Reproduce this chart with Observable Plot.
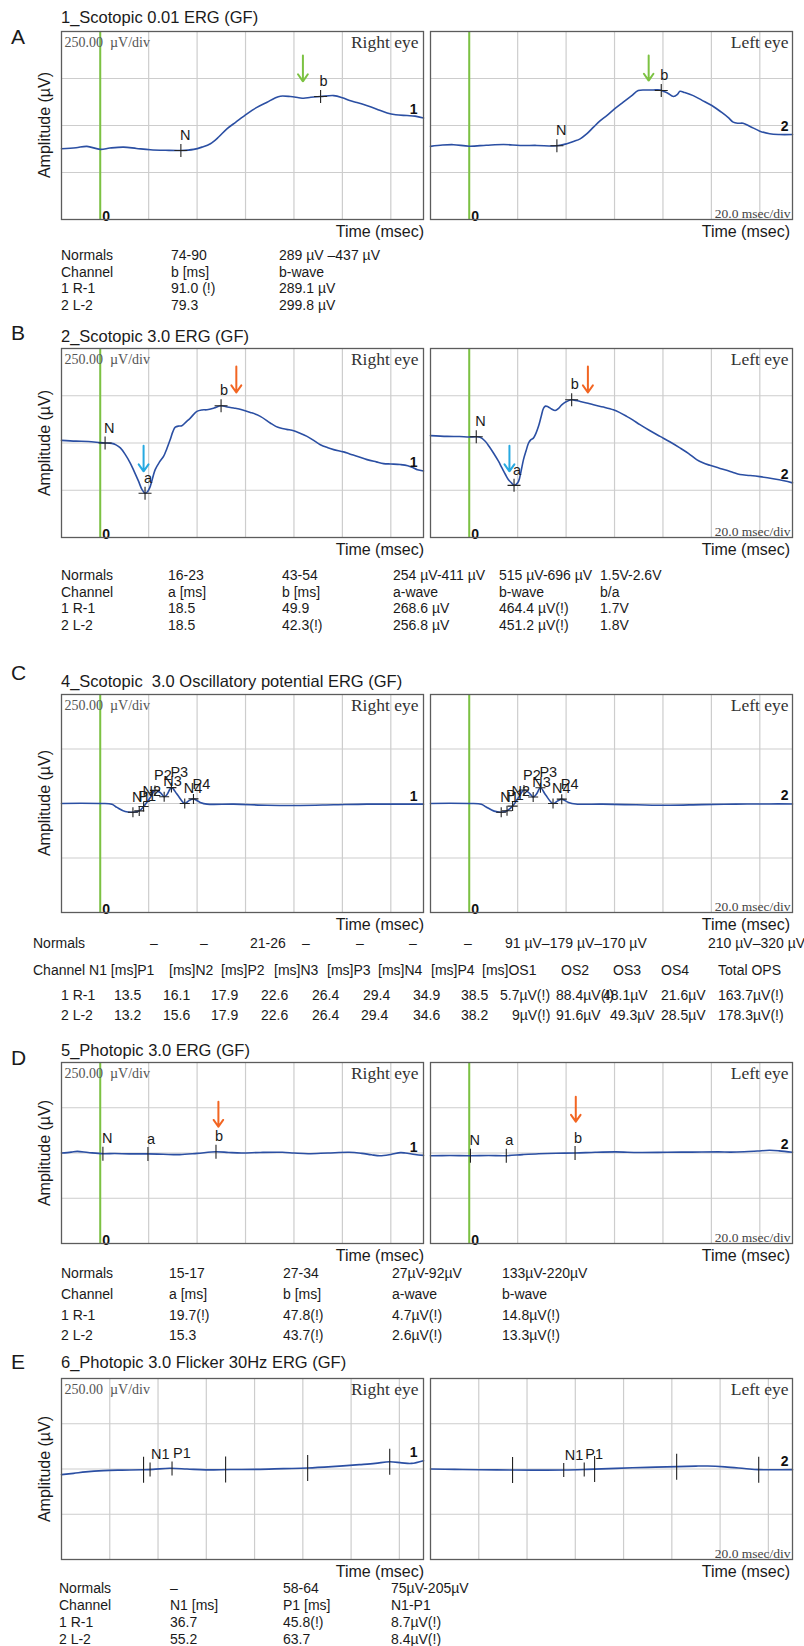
<!DOCTYPE html>
<html><head><meta charset="utf-8">
<script src="https://cdn.jsdelivr.net/npm/d3@7"></script>
<script src="https://cdn.jsdelivr.net/npm/@observablehq/plot@0.6"></script>
<style>
html,body{margin:0;padding:0;background:#fff;}
#root{position:relative;width:804px;height:1646px;overflow:hidden;font-family:"Liberation Sans",Arial,Helvetica,sans-serif;color:#1a1a1a;background:#fff}
.abs{position:absolute;white-space:pre;line-height:1}
.letter{font-size:21px}
.title{font-size:16.5px}
.amp{font-size:16px}
.time{font-size:16px}
.tbl{font-size:14px}
svg{position:absolute}
</style></head><body><div id="root"></div>
<script>
// ---------------- DATA ----------------
// traces: [time (ms), amplitude (µV)]
const traceAR = [[-16,-124],[-10,-118],[-5.5,-111],[0,-127],[4,-120],[9.6,-115],[15,-122],[20.7,-129],[27,-132],[33.3,-133],[38.6,-127],[42,-115],[45.5,-97],[49,-60],[52.3,-18],[56,18],[60.6,62],[64.5,95],[68.9,124],[72,145],[74.4,156],[78.5,154],[82,148],[84,145],[87,150],[91,154],[96.4,159],[100,148],[103,133],[106,122],[110,106],[114,88],[118.5,66],[122,57],[126.7,53],[130,50],[133.5,40]];
const traceAL = [[-16,-111],[-11,-104],[-6.5,-102],[0,-110],[7,-105],[14.2,-101],[21,-106],[27.9,-106],[36.2,-108],[40.3,-97],[43,-85],[45.8,-71],[48.5,-45],[51.3,-9],[54,25],[56.8,53],[60,88],[63.6,124],[67,158],[69.8,186],[73,189],[76,189],[78.8,189],[80.1,182],[82,172],[84.3,154],[86,165],[87,182],[89,175],[92.5,159],[96,135],[100.8,101],[104,72],[107,42],[109,18],[111,12],[113.1,12],[116,-5],[120,-30],[124.1,-44],[128,-48],[133.5,-48]];
const traceBR = [[-16,14],[-10,10],[-5,8],[0,2],[2,0],[4.8,-2],[6.5,-10],[8.3,-26],[10.3,-60],[12.4,-106],[14,-150],[15.8,-202],[17.2,-245],[18.5,-266],[19.5,-258],[20.5,-235],[22.7,-141],[24.5,-100],[26.2,-70],[27.5,-30],[28.9,18],[30,60],[31,84],[32.5,90],[33.7,91],[35.5,112],[37.2,132],[39.9,167],[42,175],[44.1,176],[47,185],[49.9,197],[52,192],[55.1,185],[58.5,176],[62,162],[66.1,141],[70.2,106],[72.5,88],[74.4,79],[77,72],[79.9,65],[82.5,52],[85.4,35],[88,15],[90.9,-9],[94,-25],[96.4,-35],[100.5,-47],[103,-58],[106,-70],[110.2,-88],[114,-100],[117,-109],[120,-111],[123.9,-114],[127,-120],[129.4,-132],[131,-142],[133.5,-148]];
const traceBL = [[-16,39],[-9.2,35],[-4,34],[0,32],[2.9,33],[4.5,30],[6.6,9],[8.3,-20],[10,-53],[12,-95],[13.5,-132],[15,-168],[16.2,-194],[17.5,-212],[18.5,-224],[19.5,-218],[20.4,-202],[21.4,-150],[22.4,-88],[23.5,-40],[24.5,0],[25.5,18],[26.5,26],[27.5,50],[28.6,88],[29.7,140],[30.7,185],[31.5,195],[32.5,192],[34,180],[35.5,172],[37,185],[38.2,202],[40,218],[42.3,229],[44,225],[45.8,220],[48.5,212],[51.3,202],[55.5,190],[59.5,176],[62,162],[65,141],[67.5,122],[70.5,97],[74.5,66],[78.8,35],[83,5],[87,-26],[90.5,-55],[93.9,-88],[96.5,-105],[99.4,-118],[103,-132],[106.3,-144],[109,-156],[111.8,-167],[116,-172],[120,-178],[125.5,-189],[130,-200],[133.5,-211]];
const traceCR = [[-16,0],[-8,1],[0,0],[4.8,-3],[6.9,-18],[10.3,-37],[13.5,-40],[16.1,-34],[17.9,-14],[20.7,28],[22.6,60],[24.8,50],[26.4,31],[27.5,40],[29.4,73],[31.7,43],[34.9,0],[36.5,12],[38.5,21],[41.3,5],[44.1,-3],[55.1,-3],[68.9,-8],[82.6,-9],[96.4,-6],[110.2,-3],[123.9,-3],[133.5,-3]];
const traceCL = [[-16,0],[-8,1],[0,0],[5,-3],[7,-16],[10.3,-35],[13.2,-40],[15.6,-33],[17.9,-12],[20.5,30],[22.6,62],[24.8,48],[26.4,30],[27.7,42],[29.4,72],[31.5,40],[34.6,0],[36.5,12],[38.2,20],[41,5],[44,-2],[55,-3],[69,-6],[83,-8],[96,-5],[110,-3],[124,-2],[133.5,-2]];
const traceDR = [[-16,0],[-12,5],[-9.5,9],[-5,3],[1.1,-4],[6,-3],[12,-5],[19.7,-5],[26,-7],[32.8,-9],[40,-2],[47.8,7],[53,3],[58.3,0],[66,3],[75.2,4],[80,0],[85.8,-4],[94,0],[102.8,4],[108,-2],[112,-10],[115.5,-15],[120,-8],[124,2],[126,0],[130,-8],[133.5,-13]];
const traceDL = [[-16,-15],[-8,-14],[0.5,-15],[8,-14],[15.3,-15],[22,-9],[28.7,-4],[36,-1],[43.7,0],[52,4],[60.5,6],[70,3],[81.7,4],[92,5],[102.9,6],[108,5],[113.5,7],[119,11],[124,15],[128,12],[133.5,4]];
const traceER = [[0,-31],[5,-24],[10,-16],[17.3,-9],[25,-6],[33.6,-4],[38,-2],[44.8,4],[52,0],[59.7,-5],[70,-3],[80.9,-2],[92,2],[102,5.5],[112,13],[123.4,24],[130,31],[136,40],[141,34],[145,31],[150,46]];
const traceEL = [[0,0],[10,-2],[20,-4],[34,-5.5],[45,-6],[55.4,-5.5],[65,-2],[76.8,3.7],[90,9],[102.2,13],[110,16],[114.9,16.5],[122,12],[130,3],[135.8,-3.7],[142,-4],[150,-3.7]];

// marker latencies (ms) and names
const markersAR = [{t:33.3,k:"N"},{t:91.0,k:"b"}];
const markersAL = [{t:36.2,k:"N"},{t:79.3,k:"b"}];
const markersBR = [{t:2.0,k:"N"},{t:18.5,k:"a"},{t:49.9,k:"b"}];
const markersBL = [{t:2.9,k:"N"},{t:18.5,k:"a"},{t:42.3,k:"b"}];
const opNames = ["N1","P1","N2","P2","N3","P3","N4","P4"];
const opTimesR = [13.5,16.1,17.9,22.6,26.4,29.4,34.9,38.5];
const opTimesL = [13.2,15.6,17.9,22.6,26.4,29.4,34.6,38.2];
const markersDR = [{t:1.1,k:"N"},{t:19.7,k:"a"},{t:47.8,k:"b"}];
const markersDL = [{t:0.5,k:"N"},{t:15.3,k:"a"},{t:43.7,k:"b"}];
const markersER = [{t:36.7,k:"N1"},{t:45.8,k:"P1"}];
const markersEL = [{t:55.2,k:"N1"},{t:63.7,k:"P1"}];
const flickerCycles = [34,68,102,136];

// arrows: time, from µV, to µV, kind
const arrowsAR = [{t:83.7,from:372,to:235,kind:"green"}];
const arrowsAL = [{t:74.1,from:372,to:239,kind:"green"}];
const arrowsBR = [{t:17.9,from:-14,to:-150,kind:"blue"},{t:56.2,from:405,to:267,kind:"orange"}];
const arrowsBL = [{t:16.6,from:-14,to:-150,kind:"blue"},{t:49.0,from:405,to:267,kind:"orange"}];
const arrowsDR = [{t:48.8,from:283,to:145,kind:"orange"}];
const arrowsDL = [{t:44.0,from:311,to:173,kind:"orange"}];

// axes
const xDomStd = [-16,133.5];
const xDomE = [0,150];
const timeGridStd = [0,20,40,60,80,100,120];
const timeGridE = [20,40,60,80,100,120,140];
const ampGrid = [-250,0,250];
const ampDom = [-500,500];

// tables
const tableA = [["Normals","74-90","289 µV –437 µV"],["Channel","b [ms]","b-wave"],["1 R-1","91.0 (!)","289.1 µV"],["2 L-2","79.3","299.8 µV"]];
const tableB = [["Normals","16-23","43-54","254 µV-411 µV","515 µV-696 µV","1.5V-2.6V"],["Channel","a [ms]","b [ms]","a-wave","b-wave","b/a"],["1 R-1","18.5","49.9","268.6 µV","464.4 µV(!)","1.7V"],["2 L-2","18.5","42.3(!)","256.8 µV","451.2 µV(!)","1.8V"]];
const normalsC = ["Normals","–","–","21-26","–","–","–","–","91 µV–179 µV–170 µV","210 µV–320 µV"];
const headC = ["Channel N1 [ms]P1","[ms]N2","[ms]P2","[ms]N3","[ms]P3","[ms]N4","[ms]P4","[ms]OS1","OS2","OS3","OS4","Total OPS"];
const row1C = ["1 R-1","13.5","16.1","17.9","22.6","26.4","29.4","34.9","38.5","5.7µV(!)","88.4µV(!)","48.1µV","21.6µV","163.7µV(!)"];
const row2C = ["2 L-2","13.2","15.6","17.9","22.6","26.4","29.4","34.6","38.2","9µV(!)","91.6µV","49.3µV","28.5µV","178.3µV(!)"];
const tableD = [["Normals","15-17","27-34","27µV-92µV","133µV-220µV"],["Channel","a [ms]","b [ms]","a-wave","b-wave"],["1 R-1","19.7(!)","47.8(!)","4.7µV(!)","14.8µV(!)"],["2 L-2","15.3","43.7(!)","2.6µV(!)","13.3µV(!)"]];
const tableE = [["Normals","–","58-64","75µV-205µV"],["Channel","N1 [ms]","P1 [ms]","N1-P1"],["1 R-1","36.7","45.8(!)","8.7µV(!)"],["2 L-2","55.2","63.7","8.4µV(!)"]];

// ---------------- STYLE / LAYOUT ----------------
const FONT = '"Liberation Sans", Arial, Helvetica, sans-serif';
const SERIF = '"Liberation Serif", "Times New Roman", serif';
const C = {trace:"#2b4fa3", grid:"#cdcdcd", frame:"#5c5c5c", zero:"#7cc242", green:"#7cc242", orange:"#f26522", blue:"#27a9e1", mark:"#222"};
const RX = 61, LX = 430, PW = 362;

const root = document.getElementById("root");
function interp(tr, t){
  for (let i=1;i<tr.length;i++){const [t0,v0]=tr[i-1],[t1,v1]=tr[i]; if(t<=t1) return v0+(v1-v0)*(t-t0)/(t1-t0);}
  return tr[tr.length-1][1];
}
const plusSym = {draw(ctx,size){const r=Math.sqrt(size/Math.PI);ctx.moveTo(-r,0);ctx.lineTo(r,0);ctx.moveTo(0,-r);ctx.lineTo(0,r);}};
const vSym = {draw(ctx,size){const r=Math.sqrt(size/Math.PI);ctx.moveTo(0,-r);ctx.lineTo(0,r);}};

function txt(s,x,y,cls,align){
  const d=document.createElement("div");
  d.className="abs "+cls; d.textContent=s;
  d.style.left=x+"px"; d.style.top=y+"px";
  d.style.transform = align==="right" ? "translate(-100%,-50%)" : "translate(0,-50%)";
  root.appendChild(d); return d;
}

function eyePlot(o){
  const tr=o.trace;
  const pts=o.markers.map(m=>({...m, v:interp(tr,m.t)}));
  const last=tr[tr.length-1];
  const marks=[
    Plot.ruleX(o.grid,{stroke:C.grid,strokeWidth:1.2}),
    Plot.ruleY(ampGrid,{stroke:C.grid,strokeWidth:1.2}),
  ];
  if(o.zero) marks.push(Plot.ruleX([0],{stroke:C.zero,strokeWidth:2}));
  marks.push(Plot.line(tr,{x:d=>d[0],y:d=>d[1],stroke:C.trace,strokeWidth:1.6,curve:"catmull-rom"}));
  if(o.cycles) marks.push(Plot.dot(o.cycles.map(t=>({t,v:interp(tr,t)})),{x:"t",y:"v",symbol:vSym,r:13,stroke:C.mark,strokeWidth:1.1,fill:"none"}));
  marks.push(Plot.dot(pts,{x:"t",y:"v",symbol:o.sym||plusSym,r:o.markR||6.5,stroke:C.mark,strokeWidth:1.1,fill:"none"}));
  marks.push(Plot.text(pts,{x:"t",y:"v",text:"k",textAnchor:"start",dx:o.labDx??-1,dy:-15,fontSize:14.5,fontFamily:FONT,fill:"#1a1a1a"}));
  if(o.arrows) marks.push(Plot.arrow(o.arrows,{x1:"t",x2:"t",y1:"from",y2:"to",stroke:d=>C[d.kind],strokeWidth:2,headLength:8,headAngle:70}));
  marks.push(Plot.text([last],{x:d=>d[0],y:d=>d[1],text:()=>o.channel,textAnchor:"end",dx:o.side==="R"?-6:-4,dy:-8,fontSize:14,fontWeight:"bold",fontFamily:FONT,fill:"#111"}));
  if(o.zero) marks.push(Plot.text([0],{x:d=>d,frameAnchor:"bottom",text:()=>"0",textAnchor:"start",dx:2,dy:1,fontSize:14,fontWeight:"bold",fontFamily:FONT,fill:"#111"}));
  if(o.side==="R"){
    marks.push(Plot.text(["250.00\u00a0\u00a0µV/div"],{frameAnchor:"top-left",dx:3,dy:6,fontSize:14,fontFamily:SERIF,fill:"#555"}));
    marks.push(Plot.text(["Right eye"],{frameAnchor:"top-right",dx:-5,dy:4,fontSize:17.5,fontFamily:SERIF,fill:"#333"}));
  } else {
    marks.push(Plot.text(["Left eye"],{frameAnchor:"top-right",dx:-4,dy:4,fontSize:17.5,fontFamily:SERIF,fill:"#333"}));
    marks.push(Plot.text(["20.0 msec/div"],{frameAnchor:"bottom-right",dx:-2,dy:-2,fontSize:13.5,fontFamily:SERIF,fill:"#444"}));
  }
  marks.push(Plot.frame({stroke:C.frame,strokeWidth:1.3}));
  const svg=Plot.plot({width:PW+2,height:o.h+2,margin:1,
    x:{domain:o.xDom,axis:null},y:{domain:ampDom,axis:null},color:{type:"identity"},
    style:{background:"transparent",overflow:"visible"},marks});
  svg.style.left=(o.left-1)+"px"; svg.style.top=(o.top-1)+"px";
  root.appendChild(svg);
}

const panels = [
  {L:"A",title:"1_Scotopic 0.01 ERG (GF)",top:31,h:188,letterY:36,titleY:17,
   R:{trace:traceAR,markers:markersAR,arrows:arrowsAR},Lf:{trace:traceAL,markers:markersAL,arrows:arrowsAL}},
  {L:"B",title:"2_Scotopic 3.0 ERG (GF)",top:348,h:189,letterY:332,titleY:336,
   R:{trace:traceBR,markers:markersBR,arrows:arrowsBR},Lf:{trace:traceBL,markers:markersBL,arrows:arrowsBL}},
  {L:"C",title:"4_Scotopic\u00a0 3.0 Oscillatory potential ERG (GF)",top:694,h:218,letterY:672,titleY:681,
   R:{trace:traceCR,markers:opNames.map((k,i)=>({k,t:opTimesR[i]})),markR:5},Lf:{trace:traceCL,markers:opNames.map((k,i)=>({k,t:opTimesL[i]})),markR:5}},
  {L:"D",title:"5_Photopic 3.0 ERG (GF)",top:1062,h:181,letterY:1057,titleY:1050,
   R:{trace:traceDR,markers:markersDR,arrows:arrowsDR,sym:vSym,markR:7},Lf:{trace:traceDL,markers:markersDL,arrows:arrowsDL,sym:vSym,markR:7}},
  {L:"E",title:"6_Photopic 3.0 Flicker 30Hz ERG (GF)",top:1378,h:181,letterY:1361,titleY:1362,noZero:true,
   R:{trace:traceER,markers:markersER,cycles:flickerCycles,sym:vSym,markR:7,labDx:1},Lf:{trace:traceEL,markers:markersEL,cycles:flickerCycles,sym:vSym,markR:7,labDx:1}},
];

for(const p of panels){
  const xDom = p.noZero ? xDomE : xDomStd;
  const grid = p.noZero ? timeGridE : timeGridStd;
  txt(p.L,11,p.letterY,"letter");
  txt(p.title,61,p.titleY,"title");
  eyePlot({...p.R,h:p.h,top:p.top,left:RX,xDom,grid,zero:!p.noZero,side:"R",channel:"1"});
  eyePlot({...p.Lf,h:p.h,top:p.top,left:LX,xDom,grid,zero:!p.noZero,side:"L",channel:"2"});
  const a=txt("Amplitude (µV)",44.5,p.top+p.h/2,"amp");
  a.style.transform="translate(-50%,-50%) rotate(-90deg)";
  txt("Time (msec)",424,p.top+p.h+12.5,"time","right");
  txt("Time (msec)",790,p.top+p.h+12.5,"time","right");
}

// tables
function table(rows,cols,ys){rows.forEach((r,i)=>r.forEach((s,j)=>txt(s,cols[j],ys[i],"tbl")));}
table(tableA,[61,171,279],[255,271.5,288,304.5]);
table(tableB,[61,168,282,393,499,600],[575,591.5,608,624.5]);
table([normalsC],[[33,150,200,250,302,356,409,464,505,708]].flat().map(x=>x),[943]);
// C rows with their own column positions
normalsC.forEach((s,j)=>{});
const colsHeadC=[33,169,221,274,327,378,431,482,561,613,661,718];
headC.forEach((s,j)=>txt(s,colsHeadC[j],970,"tbl"));
const colsRow1C=[61,114,163,211,261,312,363,413,461,500,556,603,661,718];
const colsRow2C=[61,114,163,211,261,312,361,413,461,512,556,610,661,718];
row1C.forEach((s,j)=>txt(s,colsRow1C[j],995,"tbl"));
row2C.forEach((s,j)=>txt(s,colsRow2C[j],1015,"tbl"));
table(tableD,[61,169,283,392,502],[1273,1294,1315,1335]);
table(tableE,[59,170,283,391],[1588,1605,1622,1639]);
</script></body></html>
